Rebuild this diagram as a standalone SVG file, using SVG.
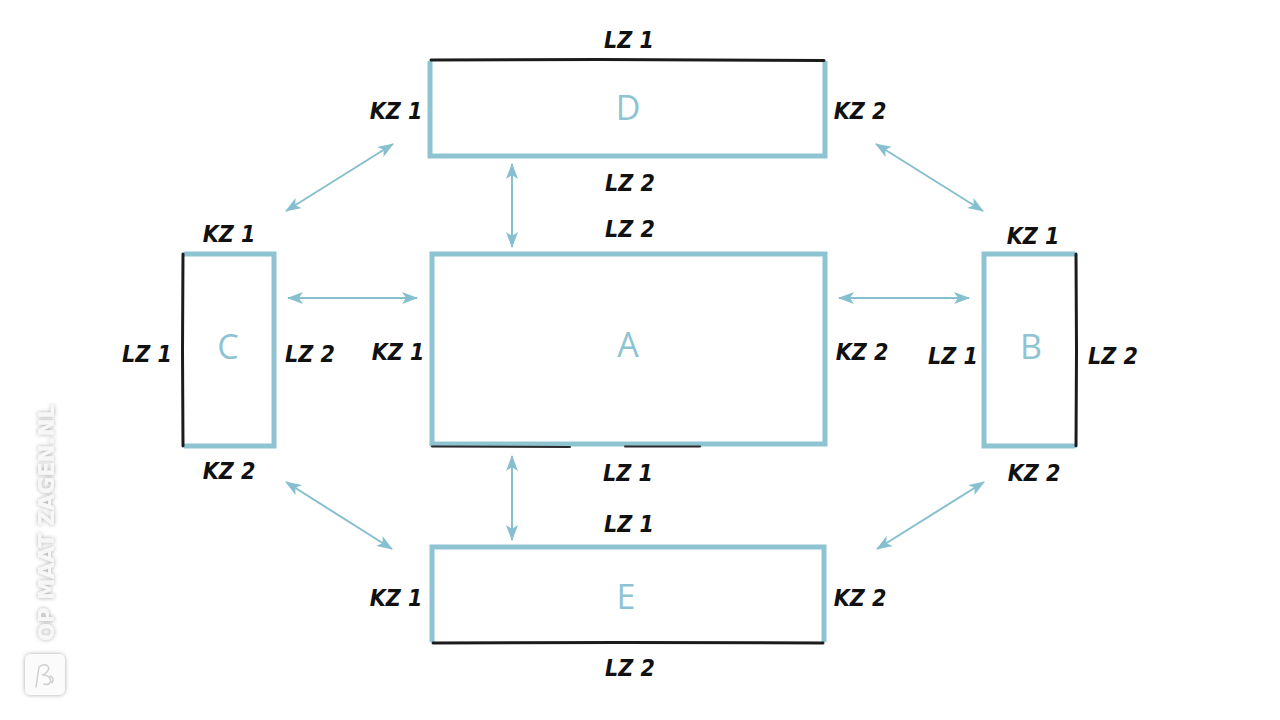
<svg xmlns="http://www.w3.org/2000/svg" width="1280" height="720" viewBox="0 0 1280 720">
<defs>
<style>
.blue{fill:none;stroke:#8ec3d2;stroke-width:5;stroke-linejoin:miter}
.blk{fill:none;stroke:#1c1c1c;stroke-width:3;stroke-linecap:round}
.blk2{fill:none;stroke:#2a2a2a;stroke-width:2;stroke-linecap:round}
.lbl{font-family:"DejaVu Sans Condensed","Liberation Sans",sans-serif;font-style:italic;font-weight:bold;font-size:23px;fill:#111;text-anchor:middle}
.big{font-family:"Open Sans","Noto Sans",sans-serif;font-size:34px;fill:#8ec3d2;text-anchor:middle}
.con{stroke:#86bfcf;stroke-width:2;fill:none;marker-start:url(#ah);marker-end:url(#ah)}
.wm{font-family:"DejaVu Sans Condensed","DejaVu Sans",sans-serif;font-weight:bold;font-size:22px;fill:#f7f7f7}
</style>
<marker id="ah" viewBox="0 0 16 12" refX="15" refY="6" markerWidth="16" markerHeight="12" markerUnits="userSpaceOnUse" orient="auto-start-reverse">
<path d="M0,0 L16,6 L0,12 L4,6 Z" fill="#86bfcf"/>
</marker>
<filter id="sh" x="-50%" y="-10%" width="200%" height="120%">
<feDropShadow dx="0" dy="0" stdDeviation="2.2" flood-color="#000" flood-opacity="0.35"/>
</filter>
</defs>
<rect width="1280" height="720" fill="#fff"/>

<g id="connectors">
<line class="con" x1="512" y1="164" x2="512" y2="247"/>
<line class="con" x1="512" y1="456" x2="512" y2="540"/>
<line class="con" x1="288" y1="298" x2="417" y2="298"/>
<line class="con" x1="839" y1="298" x2="969" y2="298"/>
<line class="con" x1="286" y1="211" x2="393" y2="144"/>
<line class="con" x1="876" y1="144" x2="983" y2="211"/>
<line class="con" x1="286" y1="482" x2="392" y2="549"/>
<line class="con" x1="877" y1="549" x2="984" y2="482"/>
</g>

<g id="node-D">
<path class="blue" d="M430,61 V156 H825 V61"/>
<path class="blk" d="M431,60 L600,59.5 L824,60.5"/>
<text class="big" x="628" y="120">D</text>
<text class="lbl" x="629" y="48">LZ 1</text>
<text class="lbl" x="396" y="119">KZ 1</text>
<text class="lbl" x="860" y="119">KZ 2</text>
<text class="lbl" x="630" y="191">LZ 2</text>
</g>

<g id="node-A">
<rect class="blue" x="432" y="254" width="393" height="190"/>
<path class="blk2" d="M432,446.5 L570,447 M625,446.5 L700,446.5"/>
<text class="big" x="628" y="357">A</text>
<text class="lbl" x="630" y="237">LZ 2</text>
<text class="lbl" x="398" y="360">KZ 1</text>
<text class="lbl" x="862" y="360">KZ 2</text>
<text class="lbl" x="628" y="481">LZ 1</text>
</g>

<g id="node-C">
<path class="blue" d="M184,254 H274 V446 H184"/>
<path class="blk" d="M183,254 L182.5,350 L183,446"/>
<text class="big" x="228" y="359">C</text>
<text class="lbl" x="229" y="242">KZ 1</text>
<text class="lbl" x="147" y="362">LZ 1</text>
<text class="lbl" x="310" y="362">LZ 2</text>
<text class="lbl" x="229" y="479">KZ 2</text>
</g>

<g id="node-B">
<path class="blue" d="M1075,254 H984 V446 H1075"/>
<path class="blk" d="M1076,254 L1076.5,350 L1076,446"/>
<text class="big" x="1031" y="359">B</text>
<text class="lbl" x="1033" y="244">KZ 1</text>
<text class="lbl" x="953" y="364">LZ 1</text>
<text class="lbl" x="1113" y="364">LZ 2</text>
<text class="lbl" x="1034" y="481">KZ 2</text>
</g>

<g id="node-E">
<path class="blue" d="M432,642 V547 H824 V642"/>
<path class="blk" d="M433,643 L620,642.5 L823,643"/>
<text class="big" x="626" y="609">E</text>
<text class="lbl" x="629" y="532">LZ 1</text>
<text class="lbl" x="396" y="606">KZ 1</text>
<text class="lbl" x="860" y="606">KZ 2</text>
<text class="lbl" x="630" y="676">LZ 2</text>
</g>

<g id="watermark" filter="url(#sh)">
<text class="wm" x="0" y="0" transform="translate(54,641) rotate(-90)" textLength="236" lengthAdjust="spacingAndGlyphs">OP MAAT ZAGEN.NL</text>
<rect x="25" y="654" width="40" height="41" rx="6" fill="#fbfbfb"/>
<path d="M36,687 L39,667 Q46,662 49,668 Q47,674 42,675 Q50,675 51,681 Q49,686 44,684 M50,676 Q55,678 52,683" fill="none" stroke="#cfcfcf" stroke-width="1.5" stroke-linecap="round"/>
</g>
</svg>
